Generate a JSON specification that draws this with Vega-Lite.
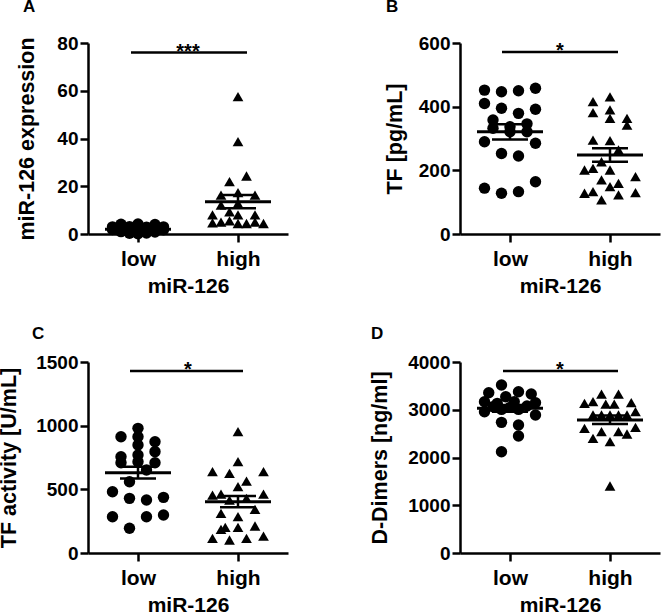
{
  "$schema": "https://vega.github.io/schema/vega-lite/v6.json",
  "autosize": {"type": "none"},
  "padding": {"left": 88, "top": 43, "right": 578, "bottom": 571},
  "background": "white",
  "config": {
    "view": {"stroke": null},
    "font": "Liberation Sans",
    "axis": {
      "grid": false,
      "domainColor": "black", "domainWidth": 2.5,
      "tickColor": "black", "tickWidth": 2.5, "tickSize": 8,
      "labelFont": "Liberation Sans", "labelFontWeight": "bold", "labelColor": "black",
      "titleFont": "Liberation Sans", "titleFontWeight": "bold", "titleColor": "black"
    },
    "axisX": {"labelFontSize": 21, "titleFontSize": 21, "labelPadding": 6, "titlePadding": 6, "labelAngle": 0},
    "axisY": {"labelFontSize": 19, "titleFontSize": 21.5, "labelPadding": 2, "format": "d"},
    "title": {"font": "Liberation Sans", "fontWeight": "bold", "fontSize": 17, "color": "black", "anchor": "start", "frame": "group", "baseline": "alphabetic"}
  },
  "datasets": {
    "pts": [
      {"panel":"A","group":"low","col":-2,"value":4.1},{"panel":"A","group":"low","col":0,"value":4.2},{"panel":"A","group":"low","col":2,"value":4.0},
      {"panel":"A","group":"low","col":-3,"value":3.0},{"panel":"A","group":"low","col":-1,"value":3.1},{"panel":"A","group":"low","col":1,"value":2.9},{"panel":"A","group":"low","col":3,"value":3.0},
      {"panel":"A","group":"low","col":-3,"value":1.9},{"panel":"A","group":"low","col":-2,"value":2.0},{"panel":"A","group":"low","col":-1,"value":1.8},{"panel":"A","group":"low","col":0,"value":2.1},{"panel":"A","group":"low","col":1,"value":1.9},{"panel":"A","group":"low","col":2,"value":2.0},{"panel":"A","group":"low","col":3,"value":1.8},
      {"panel":"A","group":"low","col":-2,"value":1.0},{"panel":"A","group":"low","col":-1,"value":0.9},{"panel":"A","group":"low","col":0,"value":1.1},{"panel":"A","group":"low","col":1,"value":1.0},{"panel":"A","group":"low","col":2,"value":0.8},
      {"panel":"A","group":"low","col":-1,"value":0.3},{"panel":"A","group":"low","col":0,"value":0.1},{"panel":"A","group":"low","col":1,"value":0.4},
      {"panel":"A","group":"high","col":0,"value":57.5},{"panel":"A","group":"high","col":0,"value":38.7},{"panel":"A","group":"high","col":1,"value":24.3},{"panel":"A","group":"high","col":-1,"value":21.9},
      {"panel":"A","group":"high","col":-2,"value":16.3},{"panel":"A","group":"high","col":0,"value":17.3},{"panel":"A","group":"high","col":2,"value":16.3},
      {"panel":"A","group":"high","col":-2,"value":12.1},{"panel":"A","group":"high","col":0,"value":12.8},{"panel":"A","group":"high","col":-1,"value":9.3},
      {"panel":"A","group":"high","col":-3,"value":8.0},{"panel":"A","group":"high","col":0,"value":8.0},{"panel":"A","group":"high","col":2,"value":8.0},
      {"panel":"A","group":"high","col":-3,"value":4.7},{"panel":"A","group":"high","col":-2,"value":5.0},{"panel":"A","group":"high","col":-1,"value":5.5},{"panel":"A","group":"high","col":0,"value":4.4},{"panel":"A","group":"high","col":1,"value":4.4},{"panel":"A","group":"high","col":2,"value":5.0},{"panel":"A","group":"high","col":3,"value":4.4},

      {"panel":"B","group":"low","col":-3,"value":452},{"panel":"B","group":"low","col":-1,"value":447},{"panel":"B","group":"low","col":1,"value":450},{"panel":"B","group":"low","col":3,"value":458},
      {"panel":"B","group":"low","col":-3,"value":410},{"panel":"B","group":"low","col":-1,"value":395},{"panel":"B","group":"low","col":1,"value":379},{"panel":"B","group":"low","col":3,"value":392},
      {"panel":"B","group":"low","col":-2,"value":358},{"panel":"B","group":"low","col":-2,"value":332},{"panel":"B","group":"low","col":0,"value":337},{"panel":"B","group":"low","col":2,"value":346},
      {"panel":"B","group":"low","col":0,"value":321},{"panel":"B","group":"low","col":2,"value":321},{"panel":"B","group":"low","col":-3,"value":290},{"panel":"B","group":"low","col":3,"value":285},
      {"panel":"B","group":"low","col":-1,"value":253},{"panel":"B","group":"low","col":1,"value":245},
      {"panel":"B","group":"low","col":-3,"value":144},{"panel":"B","group":"low","col":-1,"value":128},{"panel":"B","group":"low","col":1,"value":133},{"panel":"B","group":"low","col":3,"value":164},
      {"panel":"B","group":"high","col":-2,"value":416},{"panel":"B","group":"high","col":0,"value":431},{"panel":"B","group":"high","col":-2,"value":381},{"panel":"B","group":"high","col":0,"value":390},
      {"panel":"B","group":"high","col":0,"value":363},{"panel":"B","group":"high","col":2,"value":363},{"panel":"B","group":"high","col":2,"value":342},
      {"panel":"B","group":"high","col":-2,"value":295},{"panel":"B","group":"high","col":0,"value":293},{"panel":"B","group":"high","col":1,"value":264},{"panel":"B","group":"high","col":-1,"value":227},
      {"panel":"B","group":"high","col":-3,"value":201},{"panel":"B","group":"high","col":-2,"value":206},{"panel":"B","group":"high","col":0,"value":201},
      {"panel":"B","group":"high","col":-1,"value":170},{"panel":"B","group":"high","col":3,"value":180},{"panel":"B","group":"high","col":0,"value":149},{"panel":"B","group":"high","col":1,"value":159},
      {"panel":"B","group":"high","col":-3,"value":128},{"panel":"B","group":"high","col":-2,"value":133},{"panel":"B","group":"high","col":1,"value":123},{"panel":"B","group":"high","col":3,"value":130},{"panel":"B","group":"high","col":-1,"value":107},

      {"panel":"C","group":"low","col":0,"value":979},{"panel":"C","group":"low","col":0,"value":913},{"panel":"C","group":"low","col":0,"value":848},{"panel":"C","group":"low","col":-2,"value":913},
      {"panel":"C","group":"low","col":2,"value":874},{"panel":"C","group":"low","col":2,"value":796},{"panel":"C","group":"low","col":0,"value":770},{"panel":"C","group":"low","col":-2,"value":756},
      {"panel":"C","group":"low","col":-2,"value":709},{"panel":"C","group":"low","col":0,"value":717},{"panel":"C","group":"low","col":2,"value":709},{"panel":"C","group":"low","col":1,"value":652},
      {"panel":"C","group":"low","col":-1,"value":560},{"panel":"C","group":"low","col":-3,"value":481},{"panel":"C","group":"low","col":-1,"value":429},{"panel":"C","group":"low","col":1,"value":416},{"panel":"C","group":"low","col":3,"value":437},
      {"panel":"C","group":"low","col":-3,"value":285},{"panel":"C","group":"low","col":1,"value":285},{"panel":"C","group":"low","col":3,"value":298},{"panel":"C","group":"low","col":-1,"value":194},
      {"panel":"C","group":"high","col":0,"value":953},{"panel":"C","group":"high","col":0,"value":717},{"panel":"C","group":"high","col":-3,"value":639},{"panel":"C","group":"high","col":-1,"value":626},
      {"panel":"C","group":"high","col":3,"value":639},{"panel":"C","group":"high","col":1,"value":565},{"panel":"C","group":"high","col":0,"value":521},{"panel":"C","group":"high","col":-3,"value":455},
      {"panel":"C","group":"high","col":-2,"value":463},{"panel":"C","group":"high","col":-1,"value":416},{"panel":"C","group":"high","col":1,"value":429},{"panel":"C","group":"high","col":3,"value":463},
      {"panel":"C","group":"high","col":2,"value":343},{"panel":"C","group":"high","col":-2,"value":312},{"panel":"C","group":"high","col":0,"value":285},{"panel":"C","group":"high","col":-2,"value":186},
      {"panel":"C","group":"high","col":-1.5,"value":202},{"panel":"C","group":"high","col":0,"value":202},{"panel":"C","group":"high","col":2,"value":212},
      {"panel":"C","group":"high","col":-3,"value":115},{"panel":"C","group":"high","col":-1,"value":102},{"panel":"C","group":"high","col":1,"value":115},{"panel":"C","group":"high","col":3,"value":133},

      {"panel":"D","group":"low","col":-1,"value":3518},{"panel":"D","group":"low","col":-2.5,"value":3357},{"panel":"D","group":"low","col":1,"value":3378},{"panel":"D","group":"low","col":2.5,"value":3329},
      {"panel":"D","group":"low","col":-0.5,"value":3273},{"panel":"D","group":"low","col":-3,"value":3168},{"panel":"D","group":"low","col":-1.5,"value":3134},{"panel":"D","group":"low","col":0.5,"value":3168},
      {"panel":"D","group":"low","col":3,"value":3148},{"panel":"D","group":"low","col":-3,"value":2959},{"panel":"D","group":"low","col":-1,"value":3008},{"panel":"D","group":"low","col":1,"value":3008},
      {"panel":"D","group":"low","col":3,"value":2890},{"panel":"D","group":"low","col":-1,"value":2736},{"panel":"D","group":"low","col":1,"value":2680},{"panel":"D","group":"low","col":1,"value":2450},
      {"panel":"D","group":"low","col":-1,"value":2121},{"panel":"D","group":"low","col":-2,"value":3064},{"panel":"D","group":"low","col":0,"value":3050},{"panel":"D","group":"low","col":2,"value":3078},
      {"panel":"D","group":"high","col":-1,"value":3329},{"panel":"D","group":"high","col":1,"value":3329},{"panel":"D","group":"high","col":-3,"value":3134},{"panel":"D","group":"high","col":-2,"value":3170},
      {"panel":"D","group":"high","col":-0.5,"value":3120},{"panel":"D","group":"high","col":0.5,"value":3120},{"panel":"D","group":"high","col":2.5,"value":3148},{"panel":"D","group":"high","col":3,"value":2959},
      {"panel":"D","group":"high","col":-2,"value":2890},{"panel":"D","group":"high","col":-1,"value":2890},{"panel":"D","group":"high","col":0,"value":2890},{"panel":"D","group":"high","col":1,"value":2890},{"panel":"D","group":"high","col":2,"value":2890},
      {"panel":"D","group":"high","col":-3,"value":2610},{"panel":"D","group":"high","col":-1,"value":2541},{"panel":"D","group":"high","col":1,"value":2541},{"panel":"D","group":"high","col":3,"value":2631},
      {"panel":"D","group":"high","col":-2,"value":2401},{"panel":"D","group":"high","col":0,"value":2331},{"panel":"D","group":"high","col":2,"value":2492},{"panel":"D","group":"high","col":0,"value":1403}
    ],
    "summ": [
      {"panel":"A","group":"low","mean":2.0,"lo":1.6,"hi":2.4},{"panel":"A","group":"high","mean":13.5,"lo":10.8,"hi":16.3},
      {"panel":"B","group":"low","mean":321,"lo":297,"hi":345},{"panel":"B","group":"high","mean":248,"lo":227,"hi":269},
      {"panel":"C","group":"low","mean":630,"lo":585,"hi":678},{"panel":"C","group":"high","mean":403,"lo":359,"hi":448},
      {"panel":"D","group":"low","mean":3029,"lo":2960,"hi":3100},{"panel":"D","group":"high","mean":2785,"lo":2700,"hi":2880}
    ],
    "sig": [
      {"panel":"A","y":76,"label":"***"},{"panel":"B","y":572,"label":"*"},{"panel":"C","y":1429,"label":"*"},{"panel":"D","y":3811,"label":"*"}
    ]
  },
  "bounds": "flush",
  "columns": 2,
  "spacing": {"row": 128, "column": 172},
  "resolve": {"scale": {"y": "independent"}},
  "concat": [
    {
      "width": 200, "height": 191,
      "title": {"text": "A", "dx": -65, "offset": 18},
      "layer": [
        {"data": {"name": "pts"}, "transform": [{"filter": "datum.panel === 'A'"}],
         "mark": {"type": "point", "filled": true, "opacity": 1, "color": "black", "strokeWidth": 0},
         "encoding": {
           "x": {"field": "group", "type": "nominal", "scale": {"type": "point", "domain": ["low", "high"], "padding": 0.5}, "axis": {"title": "miR-126"}},
           "xOffset": {"field": "col", "type": "quantitative", "scale": {"domain": [-3, 3], "range": [-25.5, 25.5]}},
           "y": {"field": "value", "type": "quantitative", "scale": {"domain": [0, 80], "nice": false, "zero": true}, "axis": {"values": [0, 20, 40, 60, 80], "title": "miR-126 expression", "titlePadding": 18}},
           "shape": {"field": "group", "type": "nominal", "scale": {"domain": ["low", "high"], "range": ["circle", "triangle-up"]}, "legend": null},
           "size": {"field": "group", "type": "nominal", "scale": {"domain": ["low", "high"], "range": [130, 115]}, "legend": null}
         }},
        {"data": {"name": "summ"}, "transform": [{"filter": "datum.panel === 'A'"}],
         "mark": {"type": "rule", "color": "black", "strokeWidth": 3, "xOffset": -33, "x2Offset": 33},
         "encoding": {"x": {"field": "group", "type": "nominal"}, "x2": {"field": "group"}, "y": {"field": "mean", "type": "quantitative"}}},
        {"data": {"name": "summ"}, "transform": [{"filter": "datum.panel === 'A'"}],
         "mark": {"type": "rule", "color": "black", "strokeWidth": 2.5, "xOffset": -18, "x2Offset": 18},
         "encoding": {"x": {"field": "group", "type": "nominal"}, "x2": {"field": "group"}, "y": {"field": "hi", "type": "quantitative"}}},
        {"data": {"name": "summ"}, "transform": [{"filter": "datum.panel === 'A'"}],
         "mark": {"type": "rule", "color": "black", "strokeWidth": 2.5, "xOffset": -18, "x2Offset": 18},
         "encoding": {"x": {"field": "group", "type": "nominal"}, "x2": {"field": "group"}, "y": {"field": "lo", "type": "quantitative"}}},
        {"data": {"name": "summ"}, "transform": [{"filter": "datum.panel === 'A'"}],
         "mark": {"type": "rule", "color": "black", "strokeWidth": 2.5},
         "encoding": {"x": {"field": "group", "type": "nominal"}, "y": {"field": "lo", "type": "quantitative"}, "y2": {"field": "hi"}}},
        {"data": {"name": "sig"}, "transform": [{"filter": "datum.panel === 'A'"}],
         "mark": {"type": "rule", "color": "black", "strokeWidth": 2.5, "xOffset": -7, "x2Offset": 9},
         "encoding": {"x": {"datum": "low", "type": "nominal"}, "x2": {"datum": "high"}, "y": {"field": "y", "type": "quantitative"}}},
        {"data": {"name": "sig"}, "transform": [{"filter": "datum.panel === 'A'"}],
         "mark": {"type": "text", "color": "black", "font": "Liberation Sans", "fontWeight": "bold", "fontSize": 20, "baseline": "alphabetic", "dx": 50, "dy": 5},
         "encoding": {"x": {"datum": "low", "type": "nominal"}, "y": {"field": "y", "type": "quantitative"}, "text": {"field": "label"}}}
      ]
    },
    {
      "width": 200, "height": 191,
      "title": {"text": "B", "dx": -74, "offset": 18},
      "layer": [
        {"data": {"name": "pts"}, "transform": [{"filter": "datum.panel === 'B'"}],
         "mark": {"type": "point", "filled": true, "opacity": 1, "color": "black", "strokeWidth": 0},
         "encoding": {
           "x": {"field": "group", "type": "nominal", "scale": {"type": "point", "domain": ["low", "high"], "padding": 0.5}, "axis": {"title": "miR-126"}},
           "xOffset": {"field": "col", "type": "quantitative", "scale": {"domain": [-3, 3], "range": [-25.5, 25.5]}},
           "y": {"field": "value", "type": "quantitative", "scale": {"domain": [0, 600], "nice": false, "zero": true}, "axis": {"values": [0, 200, 400, 600], "title": "TF [pg/mL]", "titlePadding": 12}},
           "shape": {"field": "group", "type": "nominal", "scale": {"domain": ["low", "high"], "range": ["circle", "triangle-up"]}, "legend": null},
           "size": {"field": "group", "type": "nominal", "scale": {"domain": ["low", "high"], "range": [130, 115]}, "legend": null}
         }},
        {"data": {"name": "summ"}, "transform": [{"filter": "datum.panel === 'B'"}],
         "mark": {"type": "rule", "color": "black", "strokeWidth": 3, "xOffset": -33, "x2Offset": 33},
         "encoding": {"x": {"field": "group", "type": "nominal"}, "x2": {"field": "group"}, "y": {"field": "mean", "type": "quantitative"}}},
        {"data": {"name": "summ"}, "transform": [{"filter": "datum.panel === 'B'"}],
         "mark": {"type": "rule", "color": "black", "strokeWidth": 2.5, "xOffset": -18, "x2Offset": 18},
         "encoding": {"x": {"field": "group", "type": "nominal"}, "x2": {"field": "group"}, "y": {"field": "hi", "type": "quantitative"}}},
        {"data": {"name": "summ"}, "transform": [{"filter": "datum.panel === 'B'"}],
         "mark": {"type": "rule", "color": "black", "strokeWidth": 2.5, "xOffset": -18, "x2Offset": 18},
         "encoding": {"x": {"field": "group", "type": "nominal"}, "x2": {"field": "group"}, "y": {"field": "lo", "type": "quantitative"}}},
        {"data": {"name": "summ"}, "transform": [{"filter": "datum.panel === 'B'"}],
         "mark": {"type": "rule", "color": "black", "strokeWidth": 2.5},
         "encoding": {"x": {"field": "group", "type": "nominal"}, "y": {"field": "lo", "type": "quantitative"}, "y2": {"field": "hi"}}},
        {"data": {"name": "sig"}, "transform": [{"filter": "datum.panel === 'B'"}],
         "mark": {"type": "rule", "color": "black", "strokeWidth": 2.5, "xOffset": -8, "x2Offset": 8},
         "encoding": {"x": {"datum": "low", "type": "nominal"}, "x2": {"datum": "high"}, "y": {"field": "y", "type": "quantitative"}}},
        {"data": {"name": "sig"}, "transform": [{"filter": "datum.panel === 'B'"}],
         "mark": {"type": "text", "color": "black", "font": "Liberation Sans", "fontWeight": "bold", "fontSize": 20, "baseline": "alphabetic", "dx": 50, "dy": 5},
         "encoding": {"x": {"datum": "low", "type": "nominal"}, "y": {"field": "y", "type": "quantitative"}, "text": {"field": "label"}}}
      ]
    },
    {
      "width": 200, "height": 191,
      "title": {"text": "C", "dx": -56, "offset": 10},
      "layer": [
        {"data": {"name": "pts"}, "transform": [{"filter": "datum.panel === 'C'"}],
         "mark": {"type": "point", "filled": true, "opacity": 1, "color": "black", "strokeWidth": 0},
         "encoding": {
           "x": {"field": "group", "type": "nominal", "scale": {"type": "point", "domain": ["low", "high"], "padding": 0.5}, "axis": {"title": "miR-126"}},
           "xOffset": {"field": "col", "type": "quantitative", "scale": {"domain": [-3, 3], "range": [-25.5, 25.5]}},
           "y": {"field": "value", "type": "quantitative", "scale": {"domain": [0, 1500], "nice": false, "zero": true}, "axis": {"values": [0, 500, 1000, 1500], "title": "TF activity [U/mL]", "titlePadding": 15}},
           "shape": {"field": "group", "type": "nominal", "scale": {"domain": ["low", "high"], "range": ["circle", "triangle-up"]}, "legend": null},
           "size": {"field": "group", "type": "nominal", "scale": {"domain": ["low", "high"], "range": [130, 115]}, "legend": null}
         }},
        {"data": {"name": "summ"}, "transform": [{"filter": "datum.panel === 'C'"}],
         "mark": {"type": "rule", "color": "black", "strokeWidth": 3, "xOffset": -33, "x2Offset": 33},
         "encoding": {"x": {"field": "group", "type": "nominal"}, "x2": {"field": "group"}, "y": {"field": "mean", "type": "quantitative"}}},
        {"data": {"name": "summ"}, "transform": [{"filter": "datum.panel === 'C'"}],
         "mark": {"type": "rule", "color": "black", "strokeWidth": 2.5, "xOffset": -18, "x2Offset": 18},
         "encoding": {"x": {"field": "group", "type": "nominal"}, "x2": {"field": "group"}, "y": {"field": "hi", "type": "quantitative"}}},
        {"data": {"name": "summ"}, "transform": [{"filter": "datum.panel === 'C'"}],
         "mark": {"type": "rule", "color": "black", "strokeWidth": 2.5, "xOffset": -18, "x2Offset": 18},
         "encoding": {"x": {"field": "group", "type": "nominal"}, "x2": {"field": "group"}, "y": {"field": "lo", "type": "quantitative"}}},
        {"data": {"name": "summ"}, "transform": [{"filter": "datum.panel === 'C'"}],
         "mark": {"type": "rule", "color": "black", "strokeWidth": 2.5},
         "encoding": {"x": {"field": "group", "type": "nominal"}, "y": {"field": "lo", "type": "quantitative"}, "y2": {"field": "hi"}}},
        {"data": {"name": "sig"}, "transform": [{"filter": "datum.panel === 'C'"}],
         "mark": {"type": "rule", "color": "black", "strokeWidth": 2.5, "xOffset": -8, "x2Offset": 5},
         "encoding": {"x": {"datum": "low", "type": "nominal"}, "x2": {"datum": "high"}, "y": {"field": "y", "type": "quantitative"}}},
        {"data": {"name": "sig"}, "transform": [{"filter": "datum.panel === 'C'"}],
         "mark": {"type": "text", "color": "black", "font": "Liberation Sans", "fontWeight": "bold", "fontSize": 20, "baseline": "alphabetic", "dx": 50, "dy": 5},
         "encoding": {"x": {"datum": "low", "type": "nominal"}, "y": {"field": "y", "type": "quantitative"}, "text": {"field": "label"}}}
      ]
    },
    {
      "width": 200, "height": 191,
      "title": {"text": "D", "dx": -89, "offset": 10},
      "layer": [
        {"data": {"name": "pts"}, "transform": [{"filter": "datum.panel === 'D'"}],
         "mark": {"type": "point", "filled": true, "opacity": 1, "color": "black", "strokeWidth": 0},
         "encoding": {
           "x": {"field": "group", "type": "nominal", "scale": {"type": "point", "domain": ["low", "high"], "padding": 0.5}, "axis": {"title": "miR-126"}},
           "xOffset": {"field": "col", "type": "quantitative", "scale": {"domain": [-3, 3], "range": [-25.5, 25.5]}},
           "y": {"field": "value", "type": "quantitative", "scale": {"domain": [0, 4000], "nice": false, "zero": true}, "axis": {"values": [0, 1000, 2000, 3000, 4000], "title": "D-Dimers [ng/ml]", "titlePadding": 16}},
           "shape": {"field": "group", "type": "nominal", "scale": {"domain": ["low", "high"], "range": ["circle", "triangle-up"]}, "legend": null},
           "size": {"field": "group", "type": "nominal", "scale": {"domain": ["low", "high"], "range": [130, 115]}, "legend": null}
         }},
        {"data": {"name": "summ"}, "transform": [{"filter": "datum.panel === 'D'"}],
         "mark": {"type": "rule", "color": "black", "strokeWidth": 3, "xOffset": -33, "x2Offset": 33},
         "encoding": {"x": {"field": "group", "type": "nominal"}, "x2": {"field": "group"}, "y": {"field": "mean", "type": "quantitative"}}},
        {"data": {"name": "summ"}, "transform": [{"filter": "datum.panel === 'D'"}],
         "mark": {"type": "rule", "color": "black", "strokeWidth": 2.5, "xOffset": -18, "x2Offset": 18},
         "encoding": {"x": {"field": "group", "type": "nominal"}, "x2": {"field": "group"}, "y": {"field": "hi", "type": "quantitative"}}},
        {"data": {"name": "summ"}, "transform": [{"filter": "datum.panel === 'D'"}],
         "mark": {"type": "rule", "color": "black", "strokeWidth": 2.5, "xOffset": -18, "x2Offset": 18},
         "encoding": {"x": {"field": "group", "type": "nominal"}, "x2": {"field": "group"}, "y": {"field": "lo", "type": "quantitative"}}},
        {"data": {"name": "summ"}, "transform": [{"filter": "datum.panel === 'D'"}],
         "mark": {"type": "rule", "color": "black", "strokeWidth": 2.5},
         "encoding": {"x": {"field": "group", "type": "nominal"}, "y": {"field": "lo", "type": "quantitative"}, "y2": {"field": "hi"}}},
        {"data": {"name": "sig"}, "transform": [{"filter": "datum.panel === 'D'"}],
         "mark": {"type": "rule", "color": "black", "strokeWidth": 2.5, "xOffset": -7, "x2Offset": 8},
         "encoding": {"x": {"datum": "low", "type": "nominal"}, "x2": {"datum": "high"}, "y": {"field": "y", "type": "quantitative"}}},
        {"data": {"name": "sig"}, "transform": [{"filter": "datum.panel === 'D'"}],
         "mark": {"type": "text", "color": "black", "font": "Liberation Sans", "fontWeight": "bold", "fontSize": 20, "baseline": "alphabetic", "dx": 50, "dy": 5},
         "encoding": {"x": {"datum": "low", "type": "nominal"}, "y": {"field": "y", "type": "quantitative"}, "text": {"field": "label"}}}
      ]
    }
  ]
}
